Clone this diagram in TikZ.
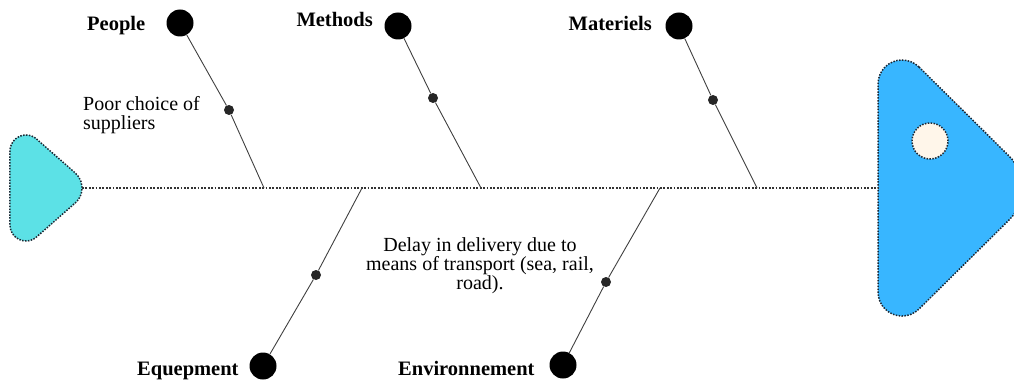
\documentclass[tikz,border=0pt]{standalone}
\usepackage{fontspec}
\setmainfont{Liberation Serif}
\definecolor{tailcyan}{HTML}{5CE1E6}
\definecolor{headblue}{HTML}{38B6FF}
\definecolor{cream}{HTML}{FFF6EA}
\definecolor{edgeink}{HTML}{1B2733}
\begin{document}
\begin{tikzpicture}[x=1pt,y=-1pt,
  bigdot/.style={circle, fill=black, inner sep=0pt, minimum size=27pt},
  smalldot/.style={circle, fill=black!85, inner sep=0pt, minimum size=10pt},
  bone/.style={draw=black!75, line width=0.9pt},
  spineline/.style={draw=black!80, line width=1.8pt, dash pattern=on 1.8pt off 1.6pt},
  outline/.style={draw=edgeink, line width=1.5pt, dash pattern=on 1.5pt off 1.4pt},
  cat/.style={font=\fontsize{20.5}{22}\selectfont\bfseries, inner sep=0pt},
  note/.style={font=\fontsize{20}{19}\selectfont, inner sep=0pt}
]
\useasboundingbox (0,0) rectangle (1014,385);

% tail: rounded triangle built from three tangent arcs
\draw[outline, fill=tailcyan]
  (36.5,139) -- (75.2,172.9) arc[start angle=-48.8, end angle=48.8, radius=20]
  -- (36.5,237) arc[start angle=48.8, end angle=180, radius=16]
  -- (10,151) arc[start angle=180, end angle=311.2, radius=16] -- cycle;

% head: larger rounded triangle, its nose running to the right edge
\draw[outline, fill=headblue]
  (919,67) -- (1009.2,156.2) arc[start angle=-45, end angle=45, radius=45]
  -- (919,309) arc[start angle=45, end angle=180, radius=24]
  -- (878,84) arc[start angle=180, end angle=315, radius=24] -- cycle;
\node[circle, outline, fill=cream, inner sep=0pt, minimum size=36pt] (eye) at (930,141) {};

% spine
\coordinate (tail) at (82,188);
\coordinate (head) at (878,188);
\draw[spineline] (tail) -- (head);

% upper bones
\node[bigdot] (pB) at (180,23) {};
\node[smalldot] (pD) at (229,110) {};
\coordinate (pS) at (264,188);
\draw[bone] (pB) -- (pD) -- (pS);

\node[bigdot] (mB) at (398,26) {};
\node[smalldot] (mD) at (433,98) {};
\coordinate (mS) at (481,188);
\draw[bone] (mB) -- (mD) -- (mS);

\node[bigdot] (tB) at (679,26) {};
\node[smalldot] (tD) at (713,100) {};
\coordinate (tS) at (757,188);
\draw[bone] (tB) -- (tD) -- (tS);

% lower bones
\node[bigdot] (eB) at (263,366) {};
\node[smalldot] (eD) at (316,275) {};
\coordinate (eS) at (362,188);
\draw[bone] (eB) -- (eD) -- (eS);

\node[bigdot] (vB) at (563,365) {};
\node[smalldot] (vD) at (606,282) {};
\coordinate (vS) at (660,188);
\draw[bone] (vB) -- (vD) -- (vS);

% category labels
\node[cat, anchor=base west] (lPeople) at (87,31) {People};
\node[cat, anchor=base east] (lMethods) at (373,27) {Methods};
\node[cat, anchor=base east] (lMat) at (652,31) {Materiels};
\node[cat, anchor=base west] (lEq) at (137,375) {Equepment};
\node[cat, anchor=base west] (lEnv) at (398,375) {Environnement};

% causes (anchored on the baseline of their last line)
\node[note, anchor=base west, align=left] (cause1) at (83,129)
  {Poor choice of\\suppliers};
\node[note, anchor=base, align=center] (cause2) at (480,289)
  {Delay in delivery due to\\means of transport (sea, rail,\\road).};
\end{tikzpicture}
\end{document}
